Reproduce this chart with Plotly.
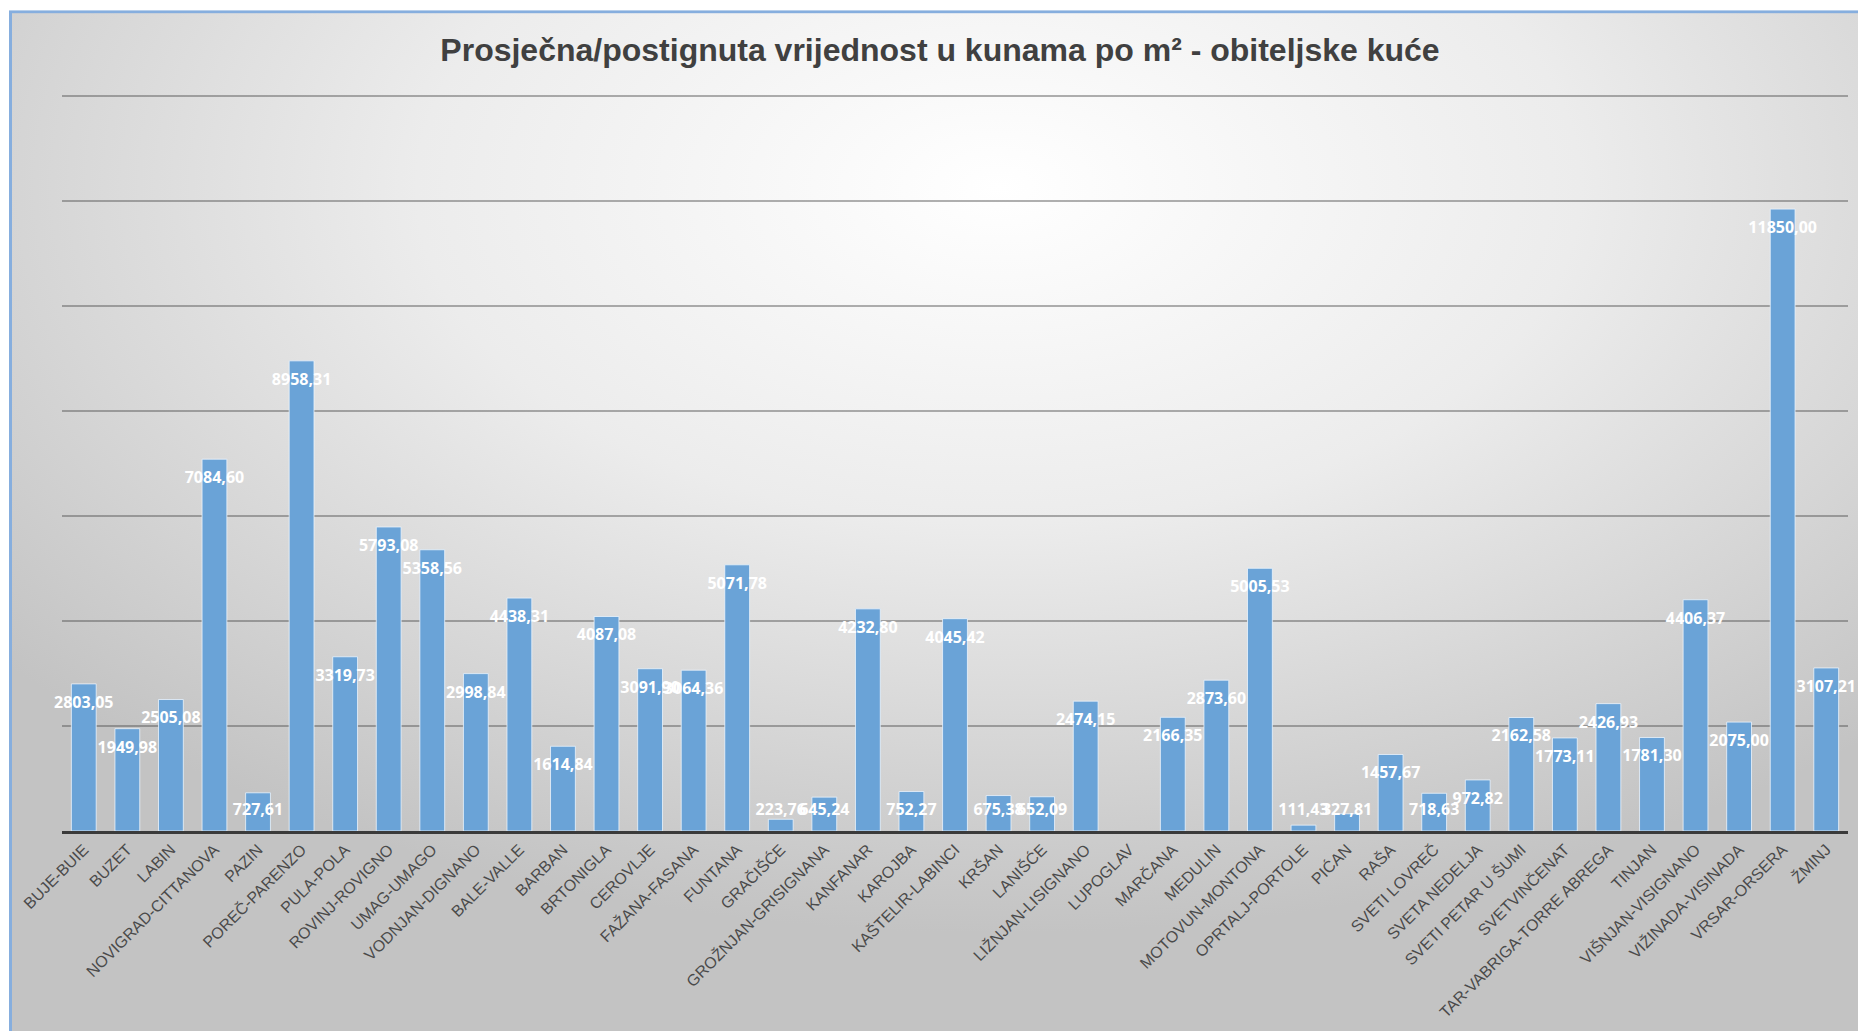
import base64
import plotly.graph_objects as go

# =========================
# DATA
# =========================
municipalities = [
    "BUJE-BUIE", "BUZET", "LABIN", "NOVIGRAD-CITTANOVA", "PAZIN", "POREČ-PARENZO",
    "PULA-POLA", "ROVINJ-ROVIGNO", "UMAG-UMAGO", "VODNJAN-DIGNANO", "BALE-VALLE",
    "BARBAN", "BRTONIGLA", "CEROVLJE", "FAŽANA-FASANA", "FUNTANA", "GRAČIŠĆE",
    "GROŽNJAN-GRISIGNANA", "KANFANAR", "KAROJBA", "KAŠTELIR-LABINCI", "KRŠAN",
    "LANIŠĆE", "LIŽNJAN-LISIGNANO", "LUPOGLAV", "MARČANA", "MEDULIN",
    "MOTOVUN-MONTONA", "OPRTALJ-PORTOLE", "PIĆAN", "RAŠA", "SVETI LOVREČ",
    "SVETA NEDELJA", "SVETI PETAR U ŠUMI", "SVETVINČENAT", "TAR-VABRIGA-TORRE ABREGA",
    "TINJAN", "VIŠNJAN-VISIGNANO", "VIŽINADA-VISINADA", "VRSAR-ORSERA", "ŽMINJ",
]
value_per_m2 = [
    2803.05, 1949.98, 2505.08, 7084.60, 727.61, 8958.31,
    3319.73, 5793.08, 5358.56, 2998.84, 4438.31,
    1614.84, 4087.08, 3091.90, 3064.36, 5071.78, 223.76,
    645.24, 4232.80, 752.27, 4045.42, 675.38,
    652.09, 2474.15, None, 2166.35, 2873.60,
    5005.53, 111.43, 327.81, 1457.67, 718.63,
    972.82, 2162.58, 1773.11, 2426.93,
    1781.30, 4406.37, 2075.00, 11850.00, 3107.21,
]
title_text = "Prosječna/postignuta vrijednost u kunama po m² - obiteljske kuće"

# =========================
# HELPERS
# =========================
W, H = 1858, 1031
M_L, M_R, M_T, M_B = 62, 10, 91, 198
Y_TOP = 14100  # a little headroom so the 14000 gridline is drawn
LABEL_DROP = 380  # label centre sits ~20px under bar top, never lower than ~20px above axis


def _label(v):
    return "" if v is None else f"{v:.2f}".replace(".", ",")


def _label_y(v):
    return None if v is None else max(v - LABEL_DROP, LABEL_DROP)


def _background():
    svg = (
        '<svg xmlns="http://www.w3.org/2000/svg" width="1880" height="1060" '
        'viewBox="0 0 1880 1060" preserveAspectRatio="none">'
        '<defs><radialGradient id="g" cx="0.52" cy="0.16" r="0.68">'
        '<stop offset="0" stop-color="#ffffff"/>'
        '<stop offset="0.45" stop-color="#ececec"/>'
        '<stop offset="1" stop-color="#c3c3c3"/>'
        '</radialGradient></defs>'
        '<rect x="1.5" y="1.5" width="1900" height="1100" fill="url(#g)" '
        'stroke="#86aede" stroke-width="3"/></svg>'
    )
    src = "data:image/svg+xml;base64," + base64.b64encode(svg.encode()).decode()
    pw, ph = W - M_L - M_R, H - M_T - M_B
    x0, y0 = 9, 10
    return dict(
        source=src, xref="paper", yref="paper",
        x=(x0 - M_L) / pw, y=(H - M_B - y0) / ph,
        sizex=1880 / pw, sizey=1060 / ph,
        xanchor="left", yanchor="top", sizing="stretch", layer="below",
    )


# =========================
# CHART
# =========================
fig = go.Figure()
fig.add_trace(go.Bar(
    x=municipalities, y=value_per_m2,
    marker=dict(color="#6aa3d7", line=dict(color="rgba(235,244,252,0.8)", width=1)),
    hoverinfo="x+y",
))
fig.add_trace(go.Scatter(
    x=municipalities, y=[_label_y(v) for v in value_per_m2],
    mode="text", text=[_label(v) for v in value_per_m2],
    textposition="middle center", cliponaxis=False,
    textfont=dict(family="Open Sans", size=16, color="#ffffff", weight="bold"),
    hoverinfo="skip",
))

fig.update_layout(
    width=W, height=H,
    margin=dict(l=M_L, r=M_R, t=M_T, b=M_B),
    paper_bgcolor="#ffffff",
    plot_bgcolor="rgba(0,0,0,0)",
    showlegend=False,
    bargap=0.43,
    images=[_background()],
    title=dict(
        text=title_text, xref="container", yref="container",
        x=940 / W, y=1 - 50 / H, xanchor="center", yanchor="middle",
        font=dict(family="Liberation Sans", size=32, color="#404040", weight="bold"),
    ),
    xaxis=dict(
        range=[-0.5, len(municipalities) - 0.5],
        tickangle=-45,
        tickfont=dict(family="Liberation Sans", size=16, color="#4a4a4a"),
        showline=True, linecolor="#3a3a3a", linewidth=3,
        ticks="", showgrid=False,
    ),
    yaxis=dict(
        range=[0, Y_TOP], dtick=2000,
        showticklabels=False, ticks="",
        showgrid=True, gridcolor="rgba(80,80,80,0.45)", gridwidth=1.5,
        zeroline=False,
    ),
)

fig.write_html("out.html", config={"displayModeBar": False},
               post_script="document.body.style.margin='0';")
